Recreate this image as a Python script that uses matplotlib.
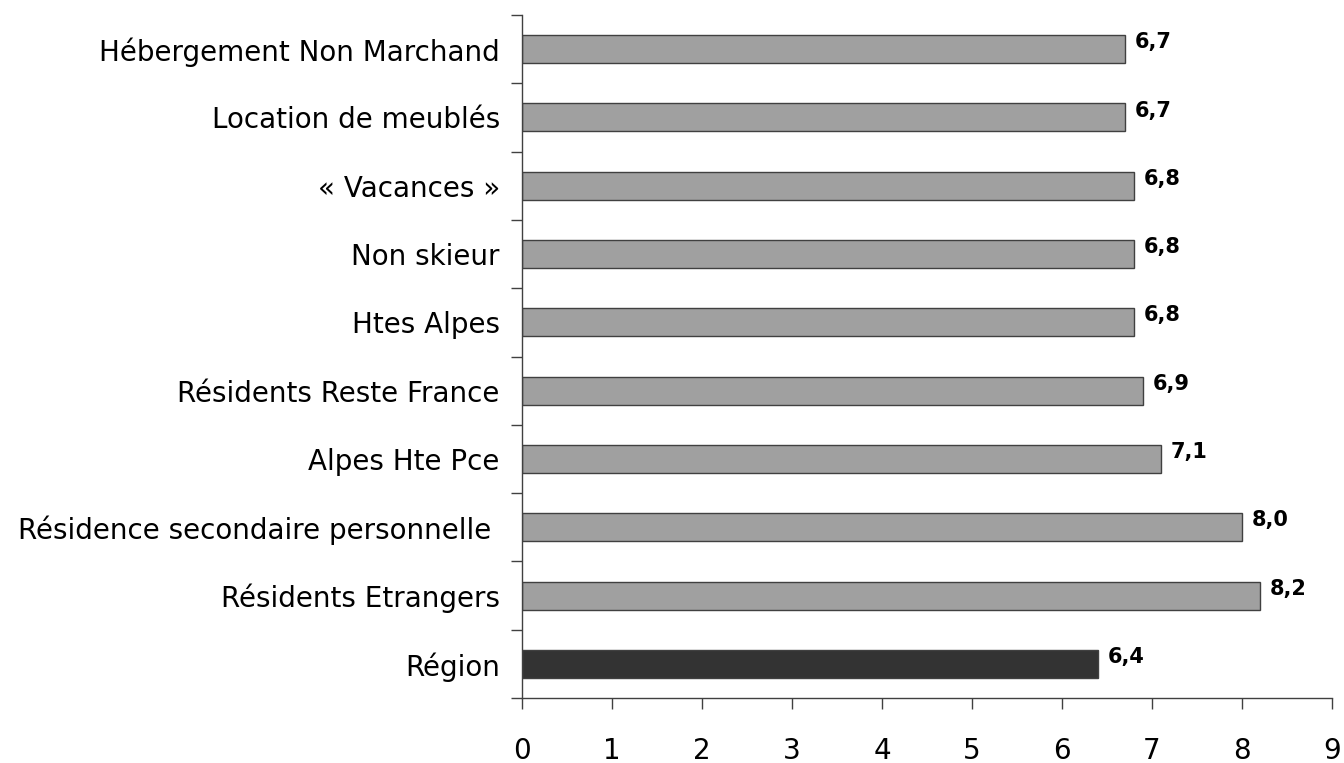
import numpy as np
import matplotlib.pyplot as plt

# durée moyenne de séjour par segment (bas -> haut)
categories = ["Région", "Résidents Etrangers", "Résidence secondaire personnelle ",
              "Alpes Hte Pce", "Résidents Reste France", "Htes Alpes",
              "Non skieur", "« Vacances »", "Location de meublés",
              "Hébergement Non Marchand"]
values = [6.4, 8.2, 8.0, 7.1, 6.9, 6.8, 6.8, 6.8, 6.7, 6.7]
value_labels = ["6,4", "8,2", "8,0", "7,1", "6,9", "6,8", "6,8", "6,8", "6,7", "6,7"]

colors = ["#333333"] + ["#a0a0a0"] * (len(values) - 1)

fig = plt.figure(figsize=(13.44, 7.63), dpi=100)
ax = fig.add_axes([0.3884, 0.0852, 0.6027, 0.8951])

y = np.arange(len(categories))
ax.barh(y, values, height=0.41, color=colors, edgecolor="#404040", linewidth=1)

for yi, v, lab in zip(y, values, value_labels):
    ax.annotate(lab, (v, yi), xytext=(7, 5), textcoords="offset points",
                ha="left", va="center", fontsize=15, fontweight="bold")

ax.set_xlim(0, 9)
ax.set_ylim(-0.5, len(categories) - 0.5)
ax.set_xticks(range(10))
ax.tick_params(axis="x", length=8, width=1, pad=20, labelsize=20, color="#404040")

ax.set_yticks(y)
ax.set_yticklabels(categories)
ax.set_yticks(np.arange(-0.5, len(categories)), minor=True)
ax.tick_params(axis="y", which="major", length=0, pad=16, labelsize=20)
ax.tick_params(axis="y", which="minor", length=8, width=1, color="#404040")

for s in ["top", "right"]:
    ax.spines[s].set_visible(False)
for s in ["left", "bottom"]:
    ax.spines[s].set_color("#404040")
    ax.spines[s].set_linewidth(1)

fig.savefig("out.png", dpi=100)
